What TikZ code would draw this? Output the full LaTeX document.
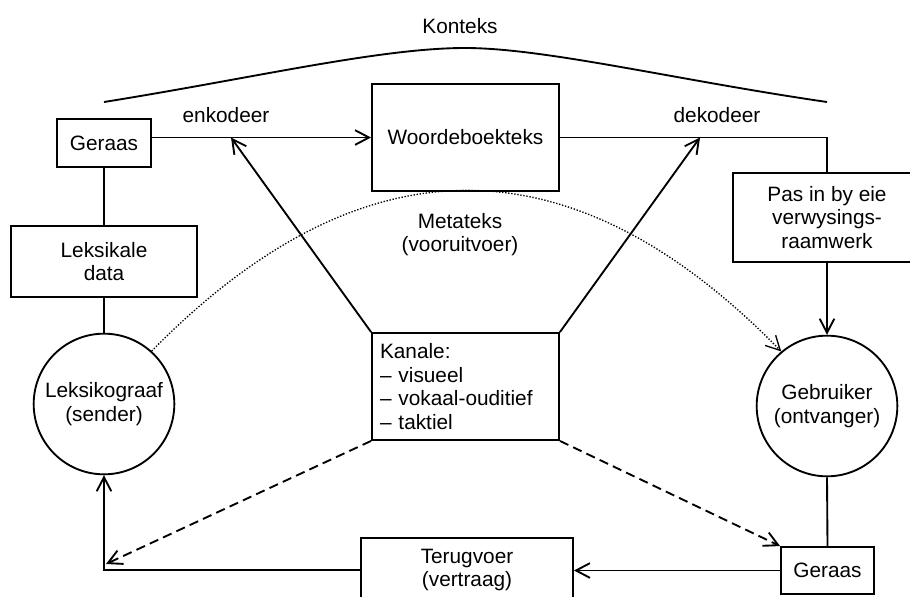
\documentclass[tikz,border=0pt]{standalone}
\usepackage{fontspec}
\setmainfont{Liberation Sans}
\usetikzlibrary{arrows.meta}
\usetikzlibrary{positioning}
\usetikzlibrary{calc}

\begin{document}
\begin{tikzpicture}[x=0.75pt,y=-0.75pt,line width=1.4pt,
	>={Straight Barb[length=10.5pt,width=11pt]},
	font=\fontsize{15.6}{17.8}\selectfont,
	box/.style={draw, align=center, inner sep=2pt},
	circ/.style={draw, circle, minimum size=105.5pt, align=center, inner sep=0pt}]
		\useasboundingbox (0,0) rectangle (910,596);
		%coordinates
		\coordinate (KonL)   at (104,102);
		\coordinate (KonTop) at (465,48);
		\coordinate (KonR)   at (827,102);
		\coordinate (Enk)    at (231,137.5);
		\coordinate (Dek)    at (700,137.5);
		\coordinate (DashL)  at (106,564);
		
		%nodes
		\node[box, minimum width=70.5pt, minimum height=36pt] (GerA) at (104,143) {Geraas};
		\node[box, minimum width=140.25pt, minimum height=80.25pt] (Woord) at (465.5,137.5) {Woordeboekteks};
		\node[box, minimum width=139.5pt, minimum height=53.25pt] (Leks) at (104,261.5) {Leksikale\\data};
		\node[circ] (Sender) at (104,404) {Leksikograaf\\(sender)};
		\node[box, minimum width=141pt, minimum height=66.75pt] (Pas) at (827,217.5) {Pas in by eie\\verwysings-\\raamwerk};
		\node[circ] (Ontv) at (827,406) {Gebruiker\\(ontvanger)};
		\node[draw, minimum width=140.25pt, minimum height=80.25pt, inner sep=6pt, text width=128.25pt, align=left] (Kanale) at (465.5,386.5) {Kanale:\\\textendash{} visueel\\\textendash{} vokaal-ouditief\\\textendash{} taktiel};
		\node[box, minimum width=69.75pt, minimum height=35.25pt] (GerB) at (827.5,570.5) {Geraas};
		\node[box, minimum width=159pt, minimum height=48pt] (Terug) at (467,570) {Terugvoer\\(vertraag)};
		
		\node (Konteks) at (460,26) {Konteks};
		\node (EnkLab) at (226,115) {enkodeer};
		\node (DekLab) at (717,115) {dekodeer};
		\node[align=center] (Meta) at (460,234.5) {Metateks\\(vooruitvoer)};
		
		\draw (KonL) .. controls (254,78) and (380,48) .. (KonTop) .. controls (545,48) and (676,80) .. (KonR);
		
		\draw[->] (GerA.east |- Woord.west) -- (Woord.west);
		\draw (Woord.east) -| (Pas.north);
		\draw[->] (Pas.south) -- (Ontv.north);
		\draw (GerA.south) -- (Leks.north);
		\draw (Leks.south) -- (Sender.north);
		\draw (Ontv.south) -- (GerB.north);
		\draw[->] (GerB.west) -- (GerB.west -| Terug.east);
		\draw[->] (Terug.west) -| (Sender.south);
		
		\draw[->] (Kanale.north west) -- (Enk);
		\draw[->] (Kanale.north east) -- (Dek);
		\draw[->, dash pattern=on 7pt off 4pt] (Kanale.south west) -- (DashL);
		\draw[->, dash pattern=on 7pt off 4pt] (Kanale.south east) -- (GerB.north west);
		\draw[->, line width=1pt, dash pattern=on 1pt off 1.3pt] (Sender.48) .. controls (362,137) and (572,137) .. (Ontv.130);
		\end{tikzpicture}
\end{document}
